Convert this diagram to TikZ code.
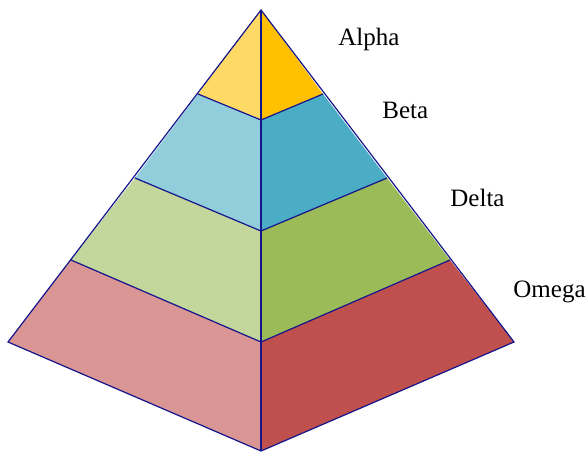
\documentclass[tikz,border=0pt]{standalone}
\usepackage{fontspec}
\setmainfont{Liberation Serif}
\usetikzlibrary{positioning}
\definecolor{cEdge}{RGB}{20,20,140}
\definecolor{cGoldL}{RGB}{255,217,102}
\definecolor{cGoldR}{RGB}{255,192,0}
\definecolor{cBlueL}{RGB}{146,205,220}
\definecolor{cBlueR}{RGB}{75,172,198}
\definecolor{cGreenL}{RGB}{195,214,155}
\definecolor{cGreenR}{RGB}{155,187,89}
\definecolor{cRedL}{RGB}{217,150,148}
\definecolor{cRedR}{RGB}{192,80,77}
\tikzset{
	face/.style ={draw=cEdge, line width=0.6pt, line join=miter},
	lbl/.style  ={anchor=base west, inner sep=0pt, font=\fontsize{12.5}{15}\selectfont},
}
\begin{document}
\begin{tikzpicture}[x=0.5pt, y=-0.5pt]
	\useasboundingbox (0,0) rectangle (588,451);
	% corners of the pyramid
	\coordinate (top) at (261,10);
	\coordinate (aL) at (198,94);  \coordinate (aM) at (261,120); \coordinate (aR) at (323,94);
	\coordinate (bL) at (135,178); \coordinate (bM) at (261,231); \coordinate (bR) at (387,178);
	\coordinate (cL) at (71,260);  \coordinate (cM) at (261,342); \coordinate (cR) at (450,260);
	\coordinate (dL) at (8,342);   \coordinate (dM) at (261,451); \coordinate (dR) at (514,342);
	% layers, left and right faces
	\fill[cGoldL]  (top) -- (aL) -- (aM) -- cycle;
	\fill[cGoldR]  (top) -- (aM) -- (aR) -- cycle;
	\fill[cBlueL]  (aL) -- (bL) -- (bM) -- (aM) -- cycle;
	\fill[cBlueR]  (aM) -- (bM) -- (bR) -- (aR) -- cycle;
	\fill[cGreenL] (bL) -- (cL) -- (cM) -- (bM) -- cycle;
	\fill[cGreenR] (bM) -- (cM) -- (cR) -- (bR) -- cycle;
	\fill[cRedL]   (cL) -- (dL) -- (dM) -- (cM) -- cycle;
	\fill[cRedR]   (cM) -- (dM) -- (dR) -- (cR) -- cycle;
	% edges
	\draw[face] (top) -- (dL) -- (dM) -- (dR) -- cycle;
	\draw[face] (top) -- (dM);
	\draw[face] (aL) -- (aM) -- (aR);
	\draw[face] (bL) -- (bM) -- (bR);
	\draw[face] (cL) -- (cM) -- (cR);
	% labels
	\node[lbl] (alpha) at (338,45)  {Alpha};
	\node[lbl] (beta)  at (382,118) {Beta};
	\node[lbl] (delta) at (450,206) {Delta};
	\node[lbl] (omega) at (513,297) {Omega};
\end{tikzpicture}
\end{document}
